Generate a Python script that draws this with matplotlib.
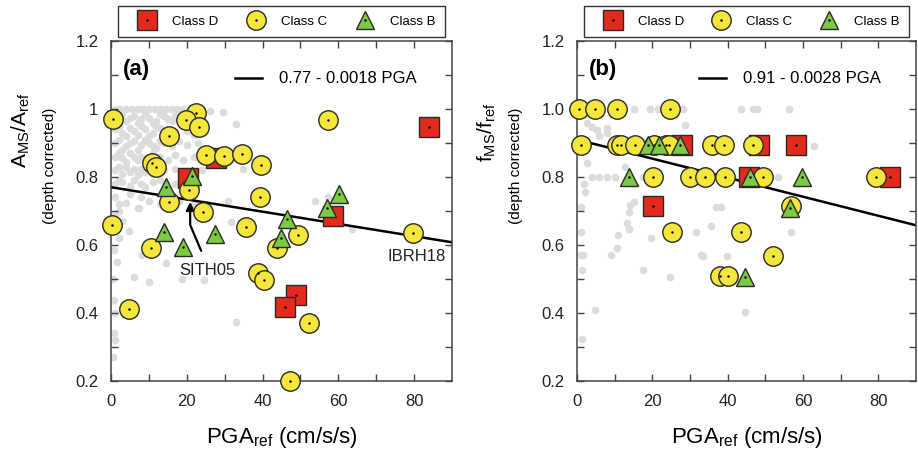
#libraries
import numpy as np
import matplotlib.pyplot as plt
from matplotlib.lines import Line2D
from matplotlib.legend_handler import HandlerTuple

plt.rcParams['font.family'] = ['Liberation Sans', 'DejaVu Sans']
plt.rcParams['mathtext.default'] = 'regular'

# panel (a) amplitude ratio
a_D_pga = [83.8, 27.7, 20.2, 58.7, 48.7, 45.9]
a_D_val = [0.946, 0.855, 0.796, 0.684, 0.453, 0.419]
a_C_pga = [0.5, 22.4, 19.9, 23.3, 15.4, 57.3, 10.9, 11.8, 25.1, 29.9, 34.6, 39.6, 20.7, 15.4,
           39.2, 24.2, 0.3, 79.8, 35.7, 49.4, 43.9, 10.5, 38.8, 40.4, 4.8, 52.3, 47.2]
a_C_val = [0.97, 0.987, 0.968, 0.946, 0.92, 0.968, 0.84, 0.83, 0.865, 0.863, 0.868, 0.835, 0.762, 0.727,
           0.742, 0.698, 0.66, 0.634, 0.654, 0.63, 0.59, 0.59, 0.519, 0.497, 0.411, 0.37, 0.2]
a_B_pga = [21.5, 14.5, 60.2, 56.9, 46.4, 14.0, 27.5, 18.9, 44.8]
a_B_val = [0.803, 0.771, 0.75, 0.708, 0.675, 0.639, 0.631, 0.595, 0.622]
a_gray_pga = [1, 2.5, 4, 5.5, 7, 8.5, 10, 11.5, 13, 14.5, 16, 17.5, 19, 21, 24, 26, 29.5, 33,
              1, 2, 3, 4, 5, 6, 7, 8, 9, 10, 11, 12, 13, 14, 15, 16, 17, 18,
              1, 2, 3, 4, 5, 6, 7, 8, 9, 10, 11, 12, 13, 15, 17, 20, 22,
              1, 2, 3, 4, 5, 6, 7, 8, 9, 10, 11, 12, 13, 14, 16, 18, 20, 23,
              1, 2, 3, 4, 5, 6, 7, 8, 9, 11, 13, 15, 17, 19, 22, 25,
              1, 2, 3, 4, 5, 6, 7, 8, 9, 11, 14, 17, 20, 24, 34.8,
              1, 2, 3, 5, 6, 8, 9, 11, 13, 17, 20,
              1, 2, 4, 5, 7, 8, 10, 13, 18, 22, 31, 53.8, 57.3,
              1, 2, 4.7, 3, 0.7, 8.2, 14.4, 6, 10, 18.8, 24.5, 0.7, 0.7, 1, 32.9, 31.7, 63.5, 1, 0.5, 1, 0.5,
              7.3, 2, 1.5]
a_gray_val = [1.0, 1.0, 1.0, 1.0, 1.0, 1.0, 1.0, 1.0, 1.0, 1.0, 1.0, 1.0, 1.0, 0.995, 1.0, 0.995, 0.99, 0.955,
              0.975, 0.96, 0.985, 0.965, 0.975, 0.98, 0.96, 0.97, 0.985, 0.975, 0.96, 0.965, 0.985, 0.98, 0.97, 0.965, 0.98, 0.975,
              0.94, 0.95, 0.93, 0.92, 0.945, 0.935, 0.925, 0.95, 0.94, 0.92, 0.93, 0.95, 0.945, 0.935, 0.93, 0.935, 0.925,
              0.9, 0.91, 0.88, 0.89, 0.9, 0.905, 0.88, 0.895, 0.91, 0.9, 0.89, 0.885, 0.905, 0.9, 0.89, 0.905, 0.895, 0.9,
              0.86, 0.87, 0.855, 0.845, 0.87, 0.86, 0.85, 0.86, 0.85, 0.87, 0.86, 0.85, 0.865, 0.85, 0.86, 0.85,
              0.82, 0.83, 0.81, 0.83, 0.815, 0.825, 0.805, 0.825, 0.815, 0.81, 0.82, 0.825, 0.815, 0.82, 0.824,
              0.78, 0.79, 0.785, 0.775, 0.79, 0.78, 0.77, 0.785, 0.79, 0.78, 0.775,
              0.74, 0.72, 0.725, 0.75, 0.71, 0.74, 0.73, 0.72, 0.73, 0.72, 0.73, 0.73, 0.742,
              0.69, 0.7, 0.64, 0.67, 0.585, 0.57, 0.546, 0.507, 0.492, 0.499, 0.497, 0.438, 0.34, 0.32, 0.374, 0.669, 0.647,
              0.66, 0.5, 0.4, 0.27,
              0.71, 0.62, 0.55]

# panel (b) frequency ratio
b_D_pga = [27.8, 48.2, 58.2, 45.7, 83.0, 20.3]
b_D_val = [0.895, 0.895, 0.895, 0.8, 0.8, 0.715]
b_C_pga = [0.5, 4.9, 10.6, 24.7,
           1.0, 10.6, 11.8, 15.5, 20.5, 23.5, 24.5, 35.8, 39.0, 46.8,
           20.3, 29.9, 34.1, 39.2, 49.3, 79.5,
           56.9, 25.2, 43.6, 52.0, 38.0, 40.2]
b_C_val = [1.0, 1.0, 1.0, 1.0,
           0.895, 0.895, 0.895, 0.895, 0.895, 0.895, 0.895, 0.895, 0.895, 0.895,
           0.8, 0.8, 0.8, 0.8, 0.8, 0.8,
           0.715, 0.637, 0.637, 0.569, 0.509, 0.509]
b_B_pga = [18.9, 21.8, 27.3, 13.7, 46.0, 59.8, 56.5, 44.6]
b_B_val = [0.895, 0.895, 0.895, 0.8, 0.8, 0.8, 0.71, 0.505]
b_gray_pga = [15, 19.4, 21.6, 25.5, 28.2, 43.5, 46.8, 47.9, 56.2,
              2.7, 4, 5.3, 8, 28.6, 5.8, 8, 63,
              2.7, 4, 5.8, 8, 10.2, 17.6, 12.8, 1.8, 2, 53.4,
              36.8, 38.1, 31.5, 35.6, 56.9, 33.4, 39.7, 44.7,
              1, 14.1, 15, 13.7, 13.2, 13.7, 11, 1, 10.6, 8.9, 1, 1.7, 1.4, 17.6, 19.6, 24.7,
              4.9, 1.4, 33]
b_gray_val = [1.0, 1.0, 1.0, 1.0, 1.0, 1.0, 1.0, 1.0, 1.0,
              0.958, 0.948, 0.938, 0.943, 0.953, 0.92, 0.93, 0.892,
              0.84, 0.8, 0.8, 0.8, 0.8, 0.8, 0.83, 0.78, 0.755, 0.8,
              0.713, 0.713, 0.637, 0.656, 0.637, 0.569, 0.569, 0.404,
              0.713, 0.718, 0.727, 0.698, 0.664, 0.646, 0.629, 0.639, 0.59, 0.571, 0.571, 0.571, 0.526, 0.526,
              0.62, 0.507, 0.41, 0.325, 0.57]

a_fit = (0.77, -0.0018)
b_fit = (0.91, -0.0028)
pga_line = [0, 90]

red = '#e42a1d'
yellow = '#f4e63a'
green = '#7cc943'
edge = '#2a2a2a'
ms = 14

fig = plt.figure(figsize=(9.18, 4.59), dpi=100)
ax1 = fig.add_axes([111/918, 78/459, 341/918, 340/459])
ax2 = fig.add_axes([577/918, 78/459, 339/918, 340/459])


def panel(ax, gx, gy, dx, dy, cx, cy, bx, by, fit, eq, tag):
    ax.plot(gx, gy, 'o', ms=5.5, color='#dcdcdc', mec='none', zorder=1)
    lx = np.array(pga_line)
    fl, = ax.plot(lx, fit[0] + fit[1] * lx, '-', color='k', lw=1.8, zorder=2)
    hD, = ax.plot(dx, dy, 's', ms=ms, mfc=red, mec=edge, mew=1, zorder=3, clip_on=False)
    hC, = ax.plot(cx, cy, 'o', ms=ms, mfc=yellow, mec=edge, mew=1, zorder=4, clip_on=False)
    hB, = ax.plot(bx, by, '^', ms=ms - 1, mfc=green, mec=edge, mew=1, zorder=5, clip_on=False)
    for xs, ys, z in [(dx, dy, 3.5), (cx, cy, 4.5), (bx, by, 5.5)]:
        ax.plot(xs, ys, '.', ms=1.5, color='k', zorder=z, clip_on=False)
    dot = Line2D([], [], ls='none', marker='.', ms=1.5, color='k')
    leg = ax.legend([(hD, dot), (hC, dot), (hB, dot)], ['Class D', 'Class C', 'Class B'],
                    handler_map={tuple: HandlerTuple(ndivide=1, pad=0)},
                    loc='lower left', bbox_to_anchor=(0.02, 1.012, 0.96, 0.08), mode='expand',
                    ncol=3, fontsize=9.5, frameon=True, fancybox=False, edgecolor='k',
                    borderaxespad=0, handlelength=3.0, handletextpad=0.4, borderpad=0.7)
    leg.get_frame().set_linewidth(1.0)
    ax.add_artist(leg)
    ax.legend([fl], [eq], loc='upper right', bbox_to_anchor=(0.915, 0.93), frameon=False,
              fontsize=12, handlelength=1.6, handletextpad=1.0, borderaxespad=0)
    ax.text(0.035, 0.9, tag, transform=ax.transAxes, fontsize=16, fontweight='bold')
    ax.set_xlim(0, 90)
    ax.set_ylim(0.2, 1.2)
    ax.set_xticks([0, 20, 40, 60, 80])
    ax.set_xticks(np.arange(10, 90, 20), minor=True)
    ax.set_yticks(np.arange(0.3, 1.2, 0.2), minor=True)
    ax.tick_params(which='both', direction='in', top=True, right=True, length=5, width=1,
                   color='#444444', labelsize=12, labelcolor='#222222')
    ax.tick_params(axis='y', pad=9)
    ax.tick_params(axis='x', pad=9)
    for s in ax.spines.values():
        s.set_color('#444444')
        s.set_linewidth(1.1)
    ax.set_xlabel('PGA$_{ref}$ (cm/s/s)', fontsize=16, labelpad=12)


panel(ax1, a_gray_pga, a_gray_val, a_D_pga, a_D_val, a_C_pga, a_C_val, a_B_pga, a_B_val,
      a_fit, '0.77 - 0.0018 PGA', '(a)')
panel(ax2, b_gray_pga, b_gray_val, b_D_pga, b_D_val, b_C_pga, b_C_val, b_B_pga, b_B_val,
      b_fit, '0.91 - 0.0028 PGA', '(b)')

ax1.set_yticks([0.2, 0.4, 0.6, 0.8, 1.0, 1.2])
ax1.set_yticklabels(['0.2', '0.4', '0.6', '0.8', '1', '1.2'])
ax2.set_yticks([0.2, 0.4, 0.6, 0.8, 1.0, 1.2])
ax2.set_yticklabels(['0.2', '0.4', '0.6', '0.8', '1.0', '1.2'])

# station labels
ax1.annotate('', xy=(20.9, 0.735), xytext=(24.1, 0.575),
             arrowprops=dict(arrowstyle='-|>', color='k', lw=1.6, mutation_scale=12,
                             connectionstyle='angle,angleA=113,angleB=90,rad=0'))
ax1.text(25.4, 0.526, 'SITH05', ha='center', va='center', fontsize=12, color='#222222')
ax1.text(80.7, 0.566, 'IBRH18', ha='center', va='center', fontsize=12, color='#222222')

# y labels
fig.text(21/918, 1 - 130/459, 'A$_{MS}$/A$_{ref}$', rotation=90, ha='center', va='center', fontsize=15)
fig.text(50/918, 1 - 166/459, '(depth corrected)', rotation=90, ha='center', va='center', fontsize=11)
fig.text(487/918, 1 - 132/459, 'f$_{MS}$/f$_{ref}$', rotation=90, ha='center', va='center', fontsize=15)
fig.text(516/918, 1 - 166/459, '(depth corrected)', rotation=90, ha='center', va='center', fontsize=11)

fig.savefig('out.png', dpi=100)
